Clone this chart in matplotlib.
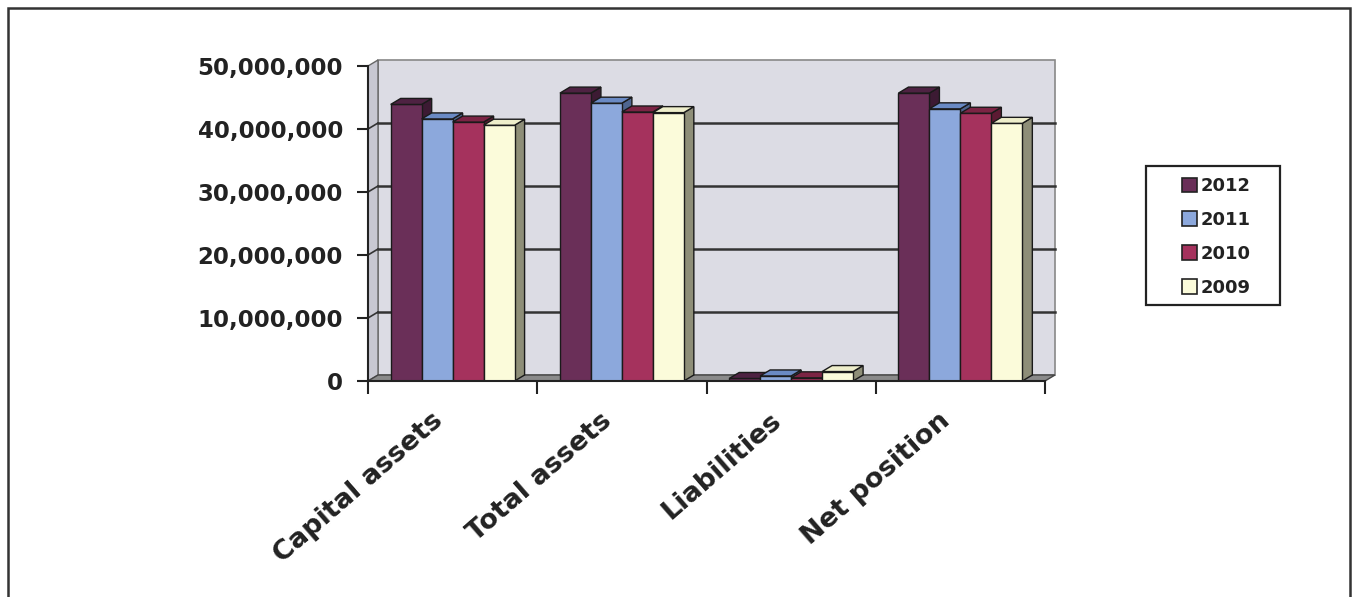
import numpy as np
import matplotlib
matplotlib.use('Agg')
import matplotlib.pyplot as plt
from matplotlib.patches import Polygon, Rectangle, Patch
from matplotlib.ticker import FuncFormatter
from matplotlib.transforms import ScaledTranslation

# data
categories = ["Capital assets", "Total assets", "Liabilities", "Net position"]
years = ["2012", "2011", "2010", "2009"]
v2012 = [43.9e6, 45.7e6, 0.4e6, 45.7e6]
v2011 = [41.6e6, 44.1e6, 0.8e6, 43.2e6]
v2010 = [41.1e6, 42.7e6, 0.5e6, 42.5e6]
v2009 = [40.6e6, 42.6e6, 1.5e6, 40.9e6]
y_ticks = [0, 10e6, 20e6, 30e6, 40e6, 50e6]

series = [v2012, v2011, v2010, v2009]
front = ["#6A2F58", "#8CA8DC", "#A5325D", "#FBFBDA"]
top = ["#4E2242", "#6A8AC4", "#7C2444", "#EEEECB"]
side = ["#3C1A33", "#4F6690", "#5C1A33", "#8E8E78"]

W, H = 1358, 597
fig = plt.figure(figsize=(W / 100, H / 100), dpi=100)
ax = fig.add_axes([368 / W, 1 - 381 / H, 677 / W, 315 / H])
ax.set_xlim(-0.5, 3.5)
ax.set_ylim(0, 50e6)
ax.patch.set_visible(False)

dx = 10 / 169          # depth offset in x data units
dy = 6 / 315 * 50e6    # depth offset in y data units
x0, x1 = -0.5, 3.5

# back wall, left wall and floor
ax.add_patch(Polygon([(x0 + dx, dy), (x1 + dx, dy), (x1 + dx, 50e6 + dy), (x0 + dx, 50e6 + dy)],
                     closed=True, facecolor="#DCDCE4", edgecolor="#888888", lw=1.2, zorder=0, clip_on=False))
ax.add_patch(Polygon([(x0, 0), (x0 + dx, dy), (x0 + dx, 50e6 + dy), (x0, 50e6)],
                     closed=True, facecolor="#C8C8D2", edgecolor="#666666", lw=1, zorder=0, clip_on=False))
ax.add_patch(Polygon([(x0, 0), (x1, 0), (x1 + dx, dy), (x0 + dx, dy)],
                     closed=True, facecolor="#8A8A8A", edgecolor="#444444", lw=1, zorder=1, clip_on=False))

# gridlines on the walls
for v in y_ticks[1:-1]:
    ax.plot([x0 + dx, x1 + dx], [v + dy, v + dy], color="#333333", lw=1.8, zorder=0.5, clip_on=False)
    ax.plot([x0, x0 + dx], [v, v + dy], color="#333333", lw=1.2, zorder=0.5, clip_on=False)

w = 0.183
offsets = [-1.5 * w, -0.5 * w, 0.5 * w, 1.5 * w]
x = np.arange(len(categories))
z = 2
for i in range(len(categories)):
    for j, vals in enumerate(series):
        bars = ax.bar(x[i] + offsets[j], vals[i], width=w, color=front[j],
                      edgecolor="#1a1a1a", lw=1.0, zorder=z)
        b = bars[0]
        bx0, bx1, h = b.get_x(), b.get_x() + b.get_width(), b.get_height()
        ax.add_patch(Polygon([(bx1, 0), (bx1 + dx, dy), (bx1 + dx, h + dy), (bx1, h)],
                             closed=True, facecolor=side[j], edgecolor="#1a1a1a", lw=1.0,
                             zorder=z - 0.5, clip_on=False))
        ax.add_patch(Polygon([(bx0, h), (bx1, h), (bx1 + dx, h + dy), (bx0 + dx, h + dy)],
                             closed=True, facecolor=top[j], edgecolor="#1a1a1a", lw=1.0,
                             zorder=z + 0.5, clip_on=False))
        z += 1

# axes styling
for s in ["top", "right"]:
    ax.spines[s].set_visible(False)
for s in ["left", "bottom"]:
    ax.spines[s].set_color("#222222")
    ax.spines[s].set_linewidth(1.5)
    ax.spines[s].set_zorder(100)

ax.set_yticks(y_ticks)
ax.yaxis.set_major_formatter(FuncFormatter(lambda v, p: f"{int(v):,}"))
ax.tick_params(axis="y", length=8, width=1.5, color="#222222", pad=10,
               labelsize=16.5, labelcolor="#222222")
for t in ax.get_yticklabels():
    t.set_fontweight("bold")

ax.set_xticks(np.arange(-0.5, 4.0, 1.0), minor=True)
ax.set_xticks(x)
ax.set_xticklabels(categories, rotation=41, ha="right", va="top", rotation_mode="anchor",
                   fontsize=19.5, fontweight="bold", color="#222222")
ax.tick_params(axis="x", which="major", length=0, pad=12)
ax.tick_params(axis="x", which="minor", length=9, width=1.5, color="#222222")
shift = ScaledTranslation(-0.22, -0.10, fig.dpi_scale_trans)
for t in ax.get_xticklabels():
    t.set_transform(t.get_transform() + shift)

# legend
handles = [Patch(facecolor=front[j], edgecolor="#222222", lw=1.2, label=years[j]) for j in range(4)]
leg = fig.legend(handles=handles, loc="upper left", bbox_to_anchor=(1182 / W, 1 - 177 / H),
                 frameon=False, prop={"weight": "bold", "size": 13},
                 handlelength=0.85, handleheight=0.85, handletextpad=0.2, labelspacing=0.88,
                 borderpad=0, borderaxespad=0)
for t in leg.get_texts():
    t.set_color("#222222")
fig.patches.append(Rectangle((1146 / W, 1 - 305 / H), 134 / W, 139 / H, transform=fig.transFigure,
                             fill=False, edgecolor="#222222", lw=1.6))

# outer frame
fig.patches.append(Rectangle((8 / W, -0.05), 1342 / W, 1.05 - 8 / H, transform=fig.transFigure,
                             fill=False, edgecolor="#333333", lw=1.8))

fig.savefig("out.png", dpi=100, facecolor="white")
